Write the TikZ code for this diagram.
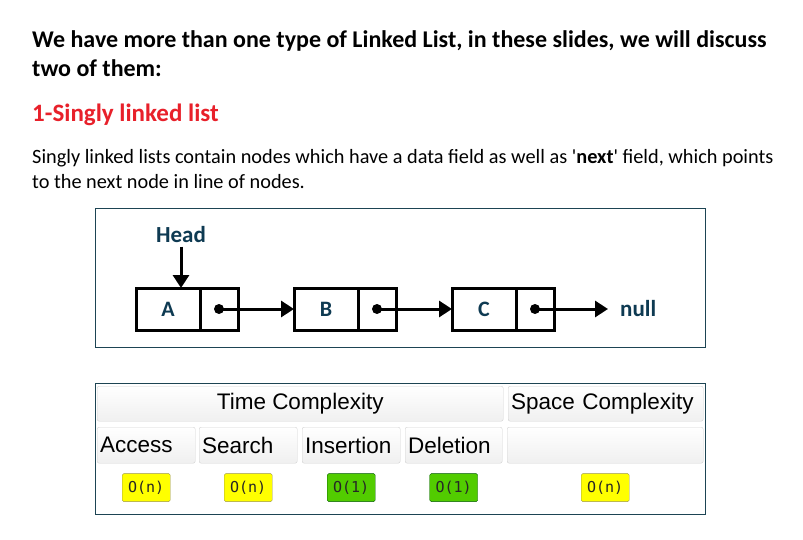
\documentclass[tikz,border=0pt]{standalone}
\usepackage{fontspec}
\setmainfont{Carlito}
\newfontfamily\tablefont{Liberation Sans}
\newfontfamily\codefont{DejaVu Sans Mono}
\usetikzlibrary{arrows.meta, positioning}

\definecolor{slidered}{HTML}{E8202A}
\definecolor{navytext}{HTML}{0E3A52}
\definecolor{frameline}{HTML}{1D4453}
\definecolor{badgeyellow}{HTML}{FFFF00}
\definecolor{badgegreen}{HTML}{52CC00}

\begin{document}
\begin{tikzpicture}[
            x=1pt, y=-1pt,
            node distance=0pt,
            % text lines of the slide
            line/.style={anchor=base west, inner sep=0pt},
            % list cells
            datacell/.style={
                draw, line width=3pt, outer sep=0pt,
                minimum width=64pt, minimum height=42pt,
                font=\fontsize{22}{22}\selectfont\bfseries, text=navytext
            },
            ptrcell/.style={
                draw, line width=3pt, outer sep=0pt,
                minimum width=38pt, minimum height=42pt
            },
            dot/.style={circle, fill, inner sep=0pt, minimum size=10pt},
            link/.style={-{Triangle[length=13pt, width=16pt]}, line width=3pt},
            frame/.style={draw=frameline, line width=1pt},
            % table cells
            tcell/.style={
                draw=gray!35, rounded corners=2pt,
                top color=white, bottom color=gray!12,
                anchor=north west, inner xsep=3pt, inner ysep=0pt,
                font=\tablefont\fontsize{22.5}{24}\selectfont
            },
            badge/.style={
                draw, rounded corners=1.5pt,
                minimum width=48pt, minimum height=28pt, inner sep=0pt,
                font=\codefont\fontsize{15}{15}\selectfont, text=black!85
            },
            slow/.style={badge, fill=badgeyellow, draw=yellow!55!black},
            fast/.style={badge, fill=badgegreen, draw=green!35!black}
        ]
        \useasboundingbox[fill=white] (0,0) rectangle (803,540);

        % Text
        \node[line, font=\fontsize{24}{29}\selectfont\bfseries] (title1) at (32,48)
            {We have more than one type of Linked List, in these slides, we will discuss};
        \node[line, font=\fontsize{24}{29}\selectfont\bfseries] (title2) at (32,77) {two of them:};
        \node[line, font=\fontsize{25}{29}\selectfont\bfseries, text=slidered] (heading) at (32,122)
            {1-Singly linked list};
        \node[line, font=\fontsize{20.3}{25}\selectfont] (body1) at (32,164)
            {Singly linked lists contain nodes which have a data field as well as \textquotesingle\textbf{next}\textquotesingle\ field, which points};
        \node[line, font=\fontsize{20.3}{25}\selectfont] (body2) at (32,189)
            {to the next node in line of nodes.};

        % Linked list
        \draw[frame] (95,209) rectangle (705,347);

        \node[datacell] (a) at (168,309) {A};
        \node[ptrcell, right=of a] (pa) {};
        \node[datacell, right=56pt of pa] (b) {B};
        \node[ptrcell, right=of b] (pb) {};
        \node[datacell, right=56pt of pb] (c) {C};
        \node[ptrcell, right=of c] (pc) {};
        \node[font=\fontsize{23}{23}\selectfont\bfseries, text=navytext, anchor=west, inner sep=0pt] (null) at (620,309) {null};
        \node[font=\fontsize{23}{23}\selectfont\bfseries, text=navytext] (head) at (181,235) {Head};

        \node[dot] (da) at (pa) {};
        \node[dot] (db) at (pb) {};
        \node[dot] (dc) at (pc) {};

        \draw[link] (head.south) -- (head.south |- a.north);
        \draw[link] (da.center) -- (b.west);
        \draw[link] (db.center) -- (c.west);
        \draw[link, shorten >=12pt] (dc.center) -- (null.west);

        % Complexity table
        \draw[frame] (95,383) rectangle (705,514);

        \node[tcell, minimum width=406pt, minimum height=35pt] (time) at (97,386) {Time Complexity};
        \node[tcell, text width=189pt, minimum height=35pt, align=left] (space) at (508,386) {Space Complexity};
        \node[tcell, text width=92pt, minimum height=36pt] (access) at (97,427) {Access};
        \node[tcell, text width=92pt, minimum height=36pt] (search) at (199,427) {Search};
        \node[tcell, text width=92pt, minimum height=36pt] (insert) at (302,427) {Insertion};
        \node[tcell, text width=91pt, minimum height=36pt] (delete) at (405,427) {Deletion};
        \node[tcell, text width=190pt, minimum height=36pt] (empty) at (507,427) {};

        \node[slow, below=10pt of access] (oaccess) {O(n)};
        \node[slow, below=10pt of search] (osearch) {O(n)};
        \node[fast, below=10pt of insert] (oinsert) {O(1)};
        \node[fast, below=10pt of delete] (odelete) {O(1)};
        \node[slow, below=10pt of empty] (ospace) {O(n)};

\end{tikzpicture}
\end{document}
